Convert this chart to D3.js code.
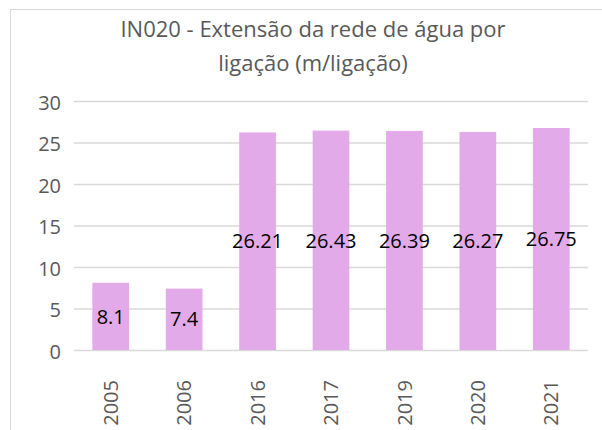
<!DOCTYPE html>
<html>
<head>
<meta charset="utf-8">
<script src="https://cdn.jsdelivr.net/npm/d3@7"></script>
<style>
  body { margin: 0; background: #fff; }
  text { font-family: "Open Sans", Lato, sans-serif; }
</style>
</head>
<body>
<div id="chart"></div>
<script>
var years = ["2005", "2006", "2016", "2017", "2019", "2020", "2021"];
var values = [8.1, 7.4, 26.21, 26.43, 26.39, 26.27, 26.75];
var valueLabels = ["8.1", "7.4", "26.21", "26.43", "26.39", "26.27", "26.75"];
var yTicks = [0, 5, 10, 15, 20, 25, 30];
var titleLines = ["IN020 - Extensão da rede de água por", "ligação (m/ligação)"];

var outerWidth = 602,
    outerHeight = 430,
    margin = { top: 101, right: 14, bottom: 80, left: 74 },
    width = outerWidth - margin.left - margin.right,
    height = outerHeight - margin.top - margin.bottom;

var svg = d3.select("#chart")
    .append("svg")
    .attr("width", outerWidth)
    .attr("height", outerHeight);

// chart frame (clipped by the picture on the right and bottom)
svg.append("rect")
    .attr("x", 10.5)
    .attr("y", 9.5)
    .attr("width", 620)
    .attr("height", 460)
    .style("fill", "none")
    .style("stroke", "#d9d9d9")
    .style("stroke-width", 1);

svg.selectAll(".title")
    .data(titleLines)
    .enter().append("text")
    .classed("title", true)
    .attr("x", 313)
    .attr("y", function(d, i) { return 37 + i * 34; })
    .style("text-anchor", "middle")
    .style("fill", "#595959")
    .style("font-size", "22px")
    .text(function(d) { return d; });

var g = svg.append("g")
    .attr("transform", "translate(" + margin.left + "," + margin.top + ")");

var x = d3.scaleBand()
    .domain(years)
    .range([0, width])
    .paddingInner(0.5)
    .paddingOuter(0.25);

var y = d3.scaleLinear()
    .domain([0, 30])
    .range([height, 0]);

var yAxis = d3.axisLeft(y)
    .tickValues(yTicks)
    .tickSize(-width)
    .tickPadding(13);

g.append("g")
    .classed("y axis", true)
    .call(yAxis)
    .call(function(s) {
        s.select(".domain").remove();
        s.selectAll("line").style("stroke", "#d9d9d9").style("stroke-width", 1.5);
        s.selectAll("text")
            .style("fill", "#595959")
            .style("font-size", "20px")
            .attr("dy", "0.42em");
    });

g.selectAll(".bar")
    .data(values)
    .enter().append("rect")
    .classed("bar", true)
    .attr("x", function(d, i) { return x(years[i]); })
    .attr("y", function(d) { return y(d); })
    .attr("width", x.bandwidth())
    .attr("height", function(d) { return height - y(d); })
    .style("fill", "#e3aaea");

g.selectAll(".vlabel")
    .data(values)
    .enter().append("text")
    .classed("vlabel", true)
    .attr("x", function(d, i) { return x(years[i]) + x.bandwidth() / 2; })
    .attr("y", function(d) { return (y(d) + height) / 2; })
    .attr("dy", "0.36em")
    .style("text-anchor", "middle")
    .style("fill", "#000")
    .style("font-size", "20px")
    .text(function(d, i) { return valueLabels[i]; });

var xAxis = d3.axisBottom(x).tickSize(0).tickPadding(0);

g.append("g")
    .classed("x axis", true)
    .attr("transform", "translate(0," + height + ")")
    .call(xAxis)
    .call(function(s) {
        s.select(".domain").remove();
        s.selectAll("text")
            .attr("transform", "rotate(-90)")
            .attr("x", -30)
            .attr("y", 0)
            .attr("dy", "0.36em")
            .style("text-anchor", "end")
            .style("fill", "#595959")
            .style("font-size", "20px");
    });
</script>
</body>
</html>
